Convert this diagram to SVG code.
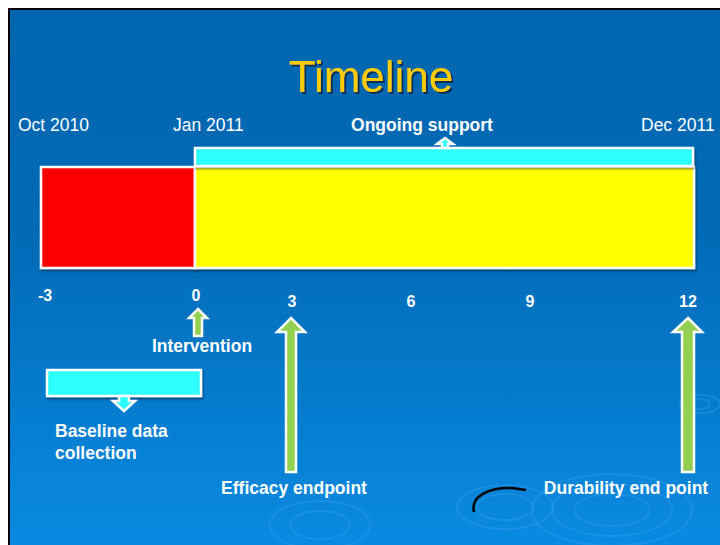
<svg xmlns="http://www.w3.org/2000/svg" width="720" height="545" viewBox="0 0 720 545">
<defs>
<linearGradient id="bg" x1="0" y1="0" x2="0" y2="1">
<stop offset="0" stop-color="#0066B0"/>
<stop offset="0.4" stop-color="#006AB6"/>
<stop offset="1" stop-color="#0A8BE2"/>
</linearGradient>
<filter id="sh" x="-10%" y="-10%" width="130%" height="140%">
<feDropShadow dx="1" dy="2" stdDeviation="1" flood-color="#000" flood-opacity="0.45"/>
</filter>
<filter id="tsh" x="-10%" y="-10%" width="130%" height="140%">
<feDropShadow dx="2" dy="2" stdDeviation="0.6" flood-color="#102040" flood-opacity="0.8"/>
</filter>
</defs>
<style>
.lbl{font-family:"Liberation Sans",Arial,sans-serif;fill:#FFFFFF;font-size:17.5px}
.b{font-weight:bold}
.num{font-family:"Liberation Sans",Arial,sans-serif;fill:#FFFFFF;font-size:16px;font-weight:bold;text-anchor:middle}
.box{stroke:#FFFFFF;stroke-width:2.5}
.green{fill:#92D050;stroke:#FFFFFF;stroke-width:2.5;stroke-linejoin:miter}
.cyan{fill:#2EFFFF;stroke:#FFFFFF;stroke-width:2.5}
.rip{fill:none;stroke:#3AA0EE;stroke-opacity:0.35;stroke-width:2}
</style>
<rect x="0" y="0" width="720" height="545" fill="#FFFFFF"/>
<rect x="9" y="9" width="720" height="545" fill="url(#bg)" stroke="#000000" stroke-width="2"/>
<g id="ripples">
<ellipse class="rip" cx="612" cy="510" rx="80" ry="36"/>
<ellipse class="rip" cx="612" cy="510" rx="60" ry="26"/>
<ellipse class="rip" cx="612" cy="510" rx="38" ry="16"/>
<ellipse class="rip" cx="505" cy="507" rx="48" ry="22"/>
<ellipse class="rip" cx="505" cy="507" rx="28" ry="13"/>
<ellipse class="rip" cx="320" cy="525" rx="50" ry="24"/>
<ellipse class="rip" cx="320" cy="525" rx="30" ry="14"/>
<ellipse class="rip" cx="700" cy="404" rx="20" ry="9"/>
<ellipse class="rip" cx="700" cy="404" rx="10" ry="5"/>
<path d="M474,512 C470,496 490,487 512,488 L526,490" fill="none" stroke="#000000" stroke-width="2.5"/>
</g>
<text x="371" y="92" font-family="'Liberation Sans',Arial,sans-serif" font-size="44" fill="#FFCC00" text-anchor="middle" filter="url(#tsh)">Timeline</text>
<g id="labels-top">
<text class="lbl" x="18" y="131">Oct 2010</text>
<text class="lbl" x="173" y="131">Jan 2011</text>
<text class="lbl b" x="422" y="131" text-anchor="middle">Ongoing support</text>
<text class="lbl" x="641" y="131">Dec 2011</text>
</g>
<g id="baseline-period"><rect class="box" x="41" y="167" width="154" height="101" fill="#FF0000" filter="url(#sh)"/></g>
<g id="followup-period"><rect class="box" x="195" y="167" width="499" height="101" fill="#FFFF00" filter="url(#sh)"/></g>
<g id="ongoing-support">
<rect class="cyan" x="195" y="148" width="498" height="18" filter="url(#sh)"/>
<path class="cyan" d="M445,138 L453,144 L448,144 L448,148 L442,148 L442,144 L437,144 Z" fill="#2EFFFF"/>
</g>
<g id="numbers">
<text class="num" x="45" y="301">-3</text>
<text class="num" x="196" y="301">0</text>
<text class="num" x="292" y="307">3</text>
<text class="num" x="411" y="307">6</text>
<text class="num" x="530" y="307">9</text>
<text class="num" x="688" y="307">12</text>
</g>
<g id="connectors">
<path class="green" d="M198,309 L207,318 L202,318 L202,336 L194,336 L194,318 L189,318 Z"/>
<path class="green" d="M291,318 L305,332 L296,332 L296,472 L286,472 L286,332 L277,332 Z"/>
<path class="green" d="M688,318 L702,332 L694,332 L694,472 L682,472 L682,332 L673,332 Z"/>
</g>
<g id="intervention"><text class="lbl b" x="202" y="352" text-anchor="middle">Intervention</text></g>
<g id="baseline-data">
<rect class="cyan" x="47" y="370" width="154" height="26" filter="url(#sh)"/>
<path class="cyan" d="M119,396 L129,396 L129,401 L135,401 L124,411 L113,401 L119,401 Z"/>
<text class="lbl b" x="55" y="437">Baseline data</text>
<text class="lbl b" x="55" y="459">collection</text>
</g>
<g id="efficacy"><text class="lbl b" x="294" y="494" text-anchor="middle">Efficacy endpoint</text></g>
<g id="durability"><text class="lbl b" x="626" y="494" text-anchor="middle">Durability end point</text></g>
</svg>
